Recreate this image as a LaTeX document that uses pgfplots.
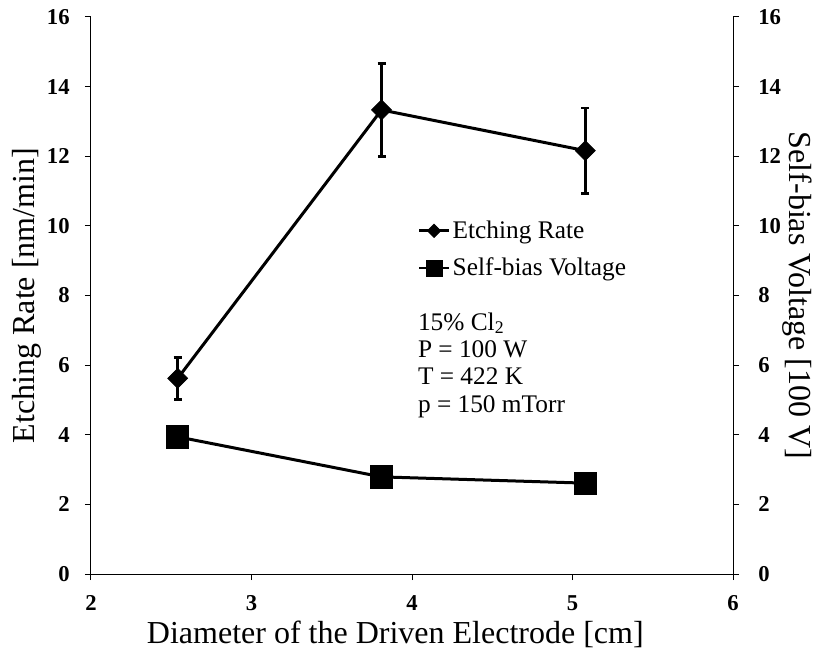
\documentclass[border=0pt]{standalone}
\usepackage{pgfplots}
\pgfplotsset{compat=1.18}
\usepackage{fontspec}
\setmainfont{Liberation Serif}

% shared look of both axes
\pgfplotsset{
  every axis/.append style={
    scale only axis, width=481.5pt, height=417.75pt,
    xmin=2, xmax=6, ymin=0, ymax=16,
    xtick={2,3,4,5,6}, ytick={0,2,...,16},
    tick align=outside, major tick length=4.5pt,
    tick style={black, line width=0.75pt},
    axis line style={black, line width=0.75pt},
    /pgf/number format/assume math mode=true,
    tick label style={font=\fontsize{17}{17}\selectfont\bfseries},
    label style={font=\fontsize{24}{26}\selectfont},
  },
  etch/.style={black, line width=2.25pt, mark=square*, mark size=5.3pt,
    mark options={rotate=45, solid, line width=0.5pt}},
  bias/.style={black, line width=2.25pt, mark=square*, mark size=8.3pt,
    mark options={solid, line width=0.5pt}},
}

\begin{document}
\begin{tikzpicture}
\path[use as bounding box] (-68.25pt,-57pt) rectangle (543.75pt,430.5pt);

\begin{axis}[
  axis x line*=bottom, axis y line*=left,
  xlabel={Diameter of the Driven Electrode [cm]},
  ylabel={Etching Rate [nm/min]},
  xlabel style={at={(axis description cs:0.474,-0.108)}, anchor=center},
  ylabel style={at={(axis description cs:-0.0997,0.5)}, anchor=center},
  yticklabel style={xshift=-8pt},
  xticklabel style={yshift=-8pt},
]
% etching rate with error bars
\addplot[etch, error bars/.cd, y dir=both, y explicit,
  error bar style={line width=2.25pt},
  error mark options={rotate=90, mark size=3pt, line width=2pt}]
  coordinates {
    (2.54,5.62)  +- (0,0.60)
    (3.81,13.33) +- (0,1.34)
    (5.08,12.16) +- (0,1.23)
  };
\node[anchor=north west, align=left, inner sep=0pt,
  font=\fontsize{19}{20.5}\selectfont]
  at (axis description cs:0.509,0.47)
  {15\% Cl\textsubscript{2}\\P = 100 W\\T = 422 K\\p = 150 mTorr};
\end{axis}

\begin{axis}[
  axis y line*=right, axis x line=none,
  ylabel={Self-bias Voltage [100 V]},
  ylabel style={at={(axis description cs:1.1,0.5)}, anchor=center, rotate=180},
  yticklabel style={xshift=11pt},
  legend style={draw=none, fill=none, inner sep=0pt,
    at={(axis description cs:0.509,0.639)}, anchor=north west,
    font=\fontsize{19}{19}\selectfont, row sep=9pt},
  legend cell align=left,
  legend image code/.code={
    \draw[#1, mark repeat=2, mark phase=2]
      plot coordinates {(0pt,0pt) (11pt,0pt) (22pt,0pt)};},
]
\addlegendimage{black, line width=2pt, mark=square*, mark size=3.6pt,
  mark options={rotate=45, solid, line width=0.4pt}}
\addlegendentry{Etching Rate}
\addlegendimage{black, line width=2pt, mark=square*, mark size=6pt,
  mark options={solid, line width=0.4pt}}
\addlegendentry{Self-bias Voltage}
% self-bias voltage
\addplot[bias, forget plot] coordinates {
  (2.54,3.94)
  (3.81,2.79)
  (5.08,2.61)
};
\end{axis}
\end{tikzpicture}
\end{document}
